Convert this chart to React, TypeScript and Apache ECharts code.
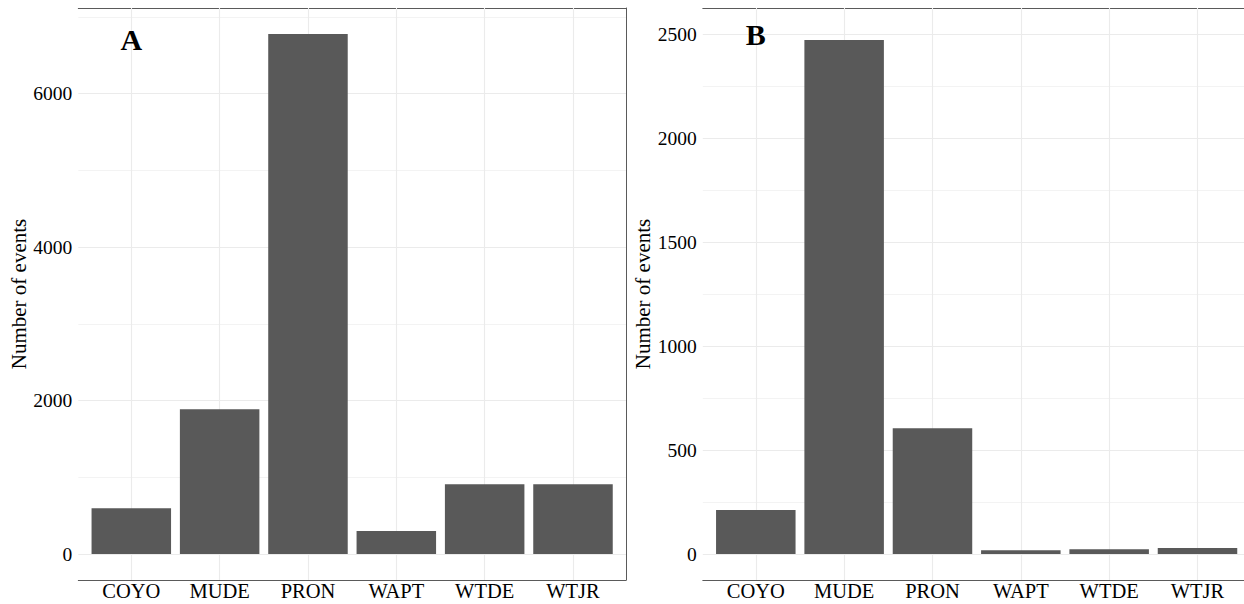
import React, { useEffect, useRef } from "react";
import * as echarts from "echarts";

const categories = ["COYO", "MUDE", "PRON", "WAPT", "WTDE", "WTJR"];
const eventsA = [596, 1886, 6778, 300, 908, 908];
const eventsB = [212, 2471, 604, 18, 23, 29];
const majorTicksA = [0, 2000, 4000, 6000];
const minorGridA = [1000, 3000, 5000, 7000];
const majorTicksB = [0, 500, 1000, 1500, 2000, 2500];
const minorGridB = [250, 750, 1250, 1750, 2250];
const panelLetters = ["A", "B"];
const letterCategory = "COYO";
const letterValues = [6700, 2500];
const yTitle = "Number of events";

const FONT = "'Liberation Serif', 'Times New Roman', serif";
const FRAME = "#5a5a5a";
const GRID = "#ebebeb";
const BAR = "#595959";

function buildOption() {
  const grids = [
    { left: 78.3, top: 8, width: 547.7, height: 572 },
    { left: 702.8, top: 8, width: 547.7, height: 572 },
  ].map((g) => ({ ...g, containLabel: false, outerBoundsMode: "none" }));

  const panels = [
    { values: eventsA, major: majorTicksA, minor: minorGridA, letter: panelLetters[0], letterY: letterValues[0] },
    { values: eventsB, major: majorTicksB, minor: minorGridB, letter: panelLetters[1], letterY: letterValues[1] },
  ];

  const idx = categories.map((_, i) => i);
  const xAxis: any[] = [];
  const yAxis: any[] = [];
  const series: any[] = [];

  panels.forEach((p, g) => {
    const hi = Math.max(...p.values, p.letterY);
    const yMin = -0.05 * hi;
    const yMax = 1.05 * hi;
    const xMin = -0.6;
    const xMax = categories.length - 1 + 0.6;

    xAxis.push({
      type: "value",
      gridIndex: g,
      position: "bottom",
      min: xMin,
      max: xMax,
      axisLine: { show: true, onZero: false, lineStyle: { color: FRAME, width: 1 } },
      axisTick: { show: false },
      splitLine: { show: false },
      axisLabel: {
        customValues: idx,
        formatter: (v: number) => categories[Math.round(v)],
        fontFamily: FONT,
        fontSize: 20.5,
        color: "#000",
        margin: 0,
      },
    });
    xAxis.push({
      type: "value",
      gridIndex: g,
      position: "top",
      min: xMin,
      max: xMax,
      axisLine: { show: true, onZero: false, lineStyle: { color: FRAME, width: 1 } },
      axisTick: { show: false },
      splitLine: { show: false },
      axisLabel: { show: false },
    });
    yAxis.push({
      type: "value",
      gridIndex: g,
      position: "left",
      min: yMin,
      max: yMax,
      axisLine: { show: false },
      axisTick: { show: true, customValues: p.major, length: 4, lineStyle: { color: "#333", width: 1 } },
      splitLine: { show: false },
      axisLabel: {
        customValues: p.major,
        formatter: (v: number) => String(Math.round(v)),
        fontFamily: FONT,
        fontSize: 19.5,
        color: "#000",
        margin: 6,
      },
      name: yTitle,
      nameLocation: "middle",
      nameGap: 49,
      nameTextStyle: { fontFamily: FONT, fontSize: 21, color: "#000" },
    });
    yAxis.push({
      type: "value",
      gridIndex: g,
      position: "right",
      min: yMin,
      max: yMax,
      axisLine: { show: true, onZero: false, lineStyle: { color: FRAME, width: 1 } },
      axisTick: { show: false },
      splitLine: { show: false },
      axisLabel: { show: false },
    });

    const xi = g * 2;
    const yi = g * 2;

    series.push({
      type: "line",
      xAxisIndex: xi,
      yAxisIndex: yi,
      data: [],
      silent: true,
      z: 1,
      markLine: {
        silent: true,
        z: 1,
        symbol: ["none", "none"],
        label: { show: false },
        emphasis: { disabled: true },
        lineStyle: { color: GRID, type: "solid", width: 1.1 },
        data: [
          ...p.minor.map((v) => ({ yAxis: v, lineStyle: { color: GRID, type: "solid", width: 0.6 } })),
          ...p.major.map((v) => ({ yAxis: v, lineStyle: { color: GRID, type: "solid", width: 1.1 } })),
          ...idx.map((i) => ({ xAxis: i, lineStyle: { color: GRID, type: "solid", width: 1.1 } })),
        ],
      },
    });

    series.push({
      type: "bar",
      xAxisIndex: xi,
      yAxisIndex: yi,
      barWidth: "90%",
      z: 3,
      itemStyle: { color: BAR },
      data: p.values.map((v, i) => [i, v]),
    });

    series.push({
      type: "scatter",
      xAxisIndex: xi,
      yAxisIndex: yi,
      z: 4,
      symbolSize: 1,
      itemStyle: { color: "rgba(0,0,0,0)" },
      silent: true,
      label: {
        show: true,
        position: "inside",
        formatter: p.letter,
        fontFamily: FONT,
        fontSize: 30,
        fontWeight: "bold",
        color: "#000",
        opacity: 1,
        textBorderWidth: 0,
      },
      data: [[categories.indexOf(letterCategory), p.letterY]],
    });
  });

  return {
    animation: false,
    backgroundColor: "#ffffff",
    grid: grids,
    xAxis,
    yAxis,
    series,
  };
}

export default function App() {
  const ref = useRef<HTMLDivElement>(null);
  useEffect(() => {
    if (!ref.current) return;
    const chart = echarts.init(ref.current, undefined, { renderer: "svg" });
    chart.setOption(buildOption() as any);
    return () => chart.dispose();
  }, []);
  return (
    <div
      ref={ref}
      style={{ position: "fixed", left: 0, top: 0, width: 1244, height: 604, background: "#fff" }}
    />
  );
}
